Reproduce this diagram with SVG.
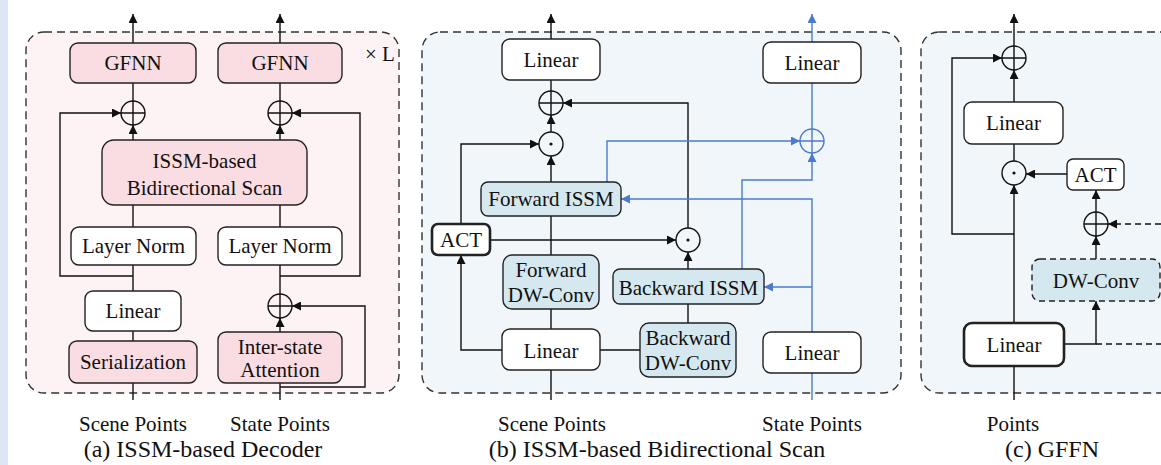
<svg xmlns="http://www.w3.org/2000/svg" width="1161" height="465" viewBox="0 0 1161 465">
<style>
text{font-family:"Liberation Serif","Times New Roman",serif;fill:#111;text-anchor:middle}
.t{font-size:21px}
.cap{font-size:24px}
.box{stroke:#222;stroke-width:1.4}
.w{fill:#fff}
.p{fill:#f9dde2}
.b{fill:#d6e8ef}
.thick{stroke-width:2.6}
.panel{stroke:#333;stroke-width:1.4;stroke-dasharray:8 5}
.ln{stroke:#111;stroke-width:1.4;fill:none}
.bl{stroke:#4a7bcc;stroke-width:1.4;fill:none}
.a{marker-end:url(#ah)}
.ab{marker-end:url(#ahb)}
.dash{stroke-dasharray:6 4}
.op{fill:none;stroke:#111;stroke-width:1.4}
.opb{fill:none;stroke:#4a7bcc;stroke-width:1.4}
</style>
<defs>
<marker id="ah" viewBox="0 0 10 10" refX="10" refY="5" markerWidth="9" markerHeight="9" markerUnits="userSpaceOnUse" orient="auto"><path d="M0,0 L10,5 L0,10 z" fill="#111"/></marker>
<marker id="ahb" viewBox="0 0 10 10" refX="10" refY="5" markerWidth="9" markerHeight="9" markerUnits="userSpaceOnUse" orient="auto"><path d="M0,0 L10,5 L0,10 z" fill="#4a7bcc"/></marker>
<g id="plus"><circle cx="0" cy="0" r="12"/><path d="M-12,0 H12 M0,-12 V12"/></g>
<g id="dot"><circle cx="0" cy="0" r="12"/></g>
</defs>
<rect width="1161" height="465" fill="#fff"/>
<rect x="0" y="0" width="8" height="465" fill="#dde6f6"/>
<!-- panels -->
<rect class="panel" x="26" y="32" width="373" height="361" rx="18" fill="#fdf3f4"/>
<rect class="panel" x="422" y="32" width="479" height="361" rx="18" fill="#f0f6f9"/>
<rect class="panel" x="921" y="32" width="270" height="361" rx="18" fill="#f0f6f9"/>
<text class="t" x="380" y="61">× L</text>

<!-- connectors -->
<g id="connectors">
<!-- (a) -->
<path class="ln a" d="M133,43 V14"/>
<path class="ln a" d="M280,43 V14"/>
<path class="ln" d="M133,83 V101"/>
<path class="ln" d="M280,83 V101"/>
<path class="ln a" d="M133,140 V125"/>
<path class="ln a" d="M280,140 V125"/>
<path class="ln" d="M133,205 V227"/>
<path class="ln" d="M280,205 V227"/>
<path class="ln a" d="M133,276 H60 V113 H121"/>
<path class="ln a" d="M280,276 H360 V113 H292"/>
<path class="ln" d="M133,265 V291"/>
<path class="ln" d="M280,265 V294"/>
<path class="ln" d="M133,331 V341"/>
<path class="ln" d="M133,400 V383"/>
<path class="ln" d="M280,400 V383"/>
<path class="ln a" d="M280,332 V318"/>
<path class="ln a" d="M280,387 H365 V306 H292"/>
<!-- (b) -->
<path class="ln a" d="M551,39 V14"/>
<path class="bl ab" d="M812,42 V14"/>
<path class="ln" d="M551,80 V91"/>
<path class="ln a" d="M551,132 V115"/>
<path class="ln a" d="M688,228 V103 H563"/>
<path class="ln a" d="M461,224 V144 H539"/>
<path class="ln a" d="M551,182 V156"/>
<path class="ln" d="M551,216 V255"/>
<path class="ln a" d="M490,240 H676"/>
<path class="ln a" d="M688,269 V252"/>
<path class="ln" d="M688,304 V323"/>
<path class="ln" d="M551,309 V329"/>
<path class="ln" d="M600,350 H640"/>
<path class="ln a" d="M502,350 H461 V255"/>
<path class="ln" d="M551,400 V370"/>
<path class="bl" d="M812,83 V129"/>
<path class="bl ab" d="M607,182 V141 H800"/>
<path class="bl ab" d="M742,269 V180 H812 V153"/>
<path class="bl ab" d="M812,332 V199 H621"/>
<path class="bl ab" d="M812,287 H764"/>
<path class="bl" d="M812,400 V373"/>
<!-- (c) -->
<path class="ln a" d="M1014,46 V14"/>
<path class="ln a" d="M1014,102 V70"/>
<path class="ln" d="M1014,144 V161"/>
<path class="ln a" d="M1014,234 H952 V58 H1002"/>
<path class="ln a" d="M1014,323 V185"/>
<path class="ln a" d="M1067,174 H1026"/>
<path class="ln a" d="M1096,212 V190"/>
<path class="ln a dash" d="M1161,224 H1108"/>
<path class="ln a" d="M1096,259 V236"/>
<path class="ln a" d="M1064,344 H1096 V301"/>
<path class="ln dash" d="M1096,344 H1161"/>
<path class="ln" d="M1014,400 V366"/>
</g>

<!-- (a) nodes -->
<g id="gfnn1"><rect class="box p" x="70" y="43" width="126" height="40" rx="8"/><text class="t" x="133" y="70">GFNN</text></g>
<g id="gfnn2"><rect class="box p" x="218" y="43" width="124" height="40" rx="8"/><text class="t" x="280" y="70">GFNN</text></g>
<g id="plusA1" class="op" transform="translate(133,113)"><use href="#plus"/></g>
<g id="plusA2" class="op" transform="translate(280,113)"><use href="#plus"/></g>
<g id="issm"><rect class="box p" x="102" y="140" width="205" height="65" rx="12"/><text class="t" x="204.5" y="168">ISSM-based</text><text class="t" x="204.5" y="195">Bidirectional Scan</text></g>
<g id="ln1"><rect class="box w" x="71" y="227" width="125" height="38" rx="8"/><text class="t" x="133.5" y="253">Layer Norm</text></g>
<g id="ln2"><rect class="box w" x="218" y="227" width="124" height="38" rx="8"/><text class="t" x="280" y="253">Layer Norm</text></g>
<g id="linA"><rect class="box w" x="85" y="291" width="96" height="40" rx="8"/><text class="t" x="133" y="318">Linear</text></g>
<g id="serial"><rect class="box p" x="69" y="341" width="128" height="42" rx="8"/><text class="t" x="133" y="369">Serialization</text></g>
<g id="inter"><rect class="box p" x="218" y="332" width="124" height="51" rx="8"/><text class="t" x="280" y="354">Inter-state</text><text class="t" x="280" y="377">Attention</text></g>
<g id="plusA3" class="op" transform="translate(280,306)"><use href="#plus"/></g>

<!-- (b) nodes -->
<g id="linB1"><rect class="box w" x="502" y="39" width="98" height="41" rx="8"/><text class="t" x="551" y="67">Linear</text></g>
<g id="linB2"><rect class="box w" x="763" y="42" width="98" height="41" rx="8"/><text class="t" x="812" y="70">Linear</text></g>
<g id="plusB" class="op" transform="translate(551,103)"><use href="#plus"/></g>
<g id="dotB1" class="op" transform="translate(551,144)"><use href="#dot"/><circle r="1.6" fill="#111" stroke="none"/></g>
<g id="plusBblue" class="opb" transform="translate(812,141)"><use href="#plus"/></g>
<g id="fissm"><rect class="box b" x="481" y="182" width="140" height="34" rx="7"/><text class="t" x="551" y="206">Forward ISSM</text></g>
<g id="actB"><rect class="box w thick" x="432" y="224" width="58" height="31" rx="6"/><text class="t" x="461" y="247">ACT</text></g>
<g id="dotB2" class="op" transform="translate(688,240)"><use href="#dot"/><circle r="1.6" fill="#111" stroke="none"/></g>
<g id="fdw"><rect class="box b" x="503" y="255" width="96" height="54" rx="9"/><text class="t" x="551" y="277">Forward</text><text class="t" x="551" y="302">DW-Conv</text></g>
<g id="bissm"><rect class="box b" x="613" y="269" width="151" height="35" rx="7"/><text class="t" x="688.5" y="295">Backward ISSM</text></g>
<g id="bdw"><rect class="box b" x="640" y="323" width="96" height="54" rx="9"/><text class="t" x="688" y="345">Backward</text><text class="t" x="688" y="370">DW-Conv</text></g>
<g id="linB3"><rect class="box w" x="502" y="329" width="98" height="41" rx="8"/><text class="t" x="551" y="358">Linear</text></g>
<g id="linB4"><rect class="box w" x="763" y="332" width="98" height="41" rx="8"/><text class="t" x="812" y="360">Linear</text></g>

<!-- (c) nodes -->
<g id="plusC1" class="op" transform="translate(1014,58)"><use href="#plus"/></g>
<g id="linC1"><rect class="box w" x="964" y="102" width="99" height="42" rx="8"/><text class="t" x="1013.5" y="130">Linear</text></g>
<g id="dotC" class="op" transform="translate(1014,173)"><use href="#dot"/><circle r="1.6" fill="#111" stroke="none"/></g>
<g id="actC"><rect class="box w" x="1067" y="159" width="57" height="31" rx="6"/><text class="t" x="1095.5" y="182">ACT</text></g>
<g id="plusC2" class="op" transform="translate(1096,224)"><use href="#plus"/></g>
<g id="dwc"><rect class="box b dash" x="1032" y="259" width="128" height="42" rx="8"/><text class="t" x="1096" y="288">DW-Conv</text></g>
<g id="linC2"><rect class="box w thick" x="964" y="323" width="100" height="43" rx="8"/><text class="t" x="1014" y="352">Linear</text></g>

<!-- labels -->
<text class="t" x="133" y="431">Scene Points</text>
<text class="t" x="280" y="431">State Points</text>
<text class="cap" x="203" y="457">(a) ISSM-based Decoder</text>
<text class="t" x="552" y="431">Scene Points</text>
<text class="t" x="812" y="431">State Points</text>
<text class="cap" x="657" y="457">(b) ISSM-based Bidirectional Scan</text>
<text class="t" x="1013" y="431">Points</text>
<text class="cap" x="1052" y="457">(c) GFFN</text>
</svg>
